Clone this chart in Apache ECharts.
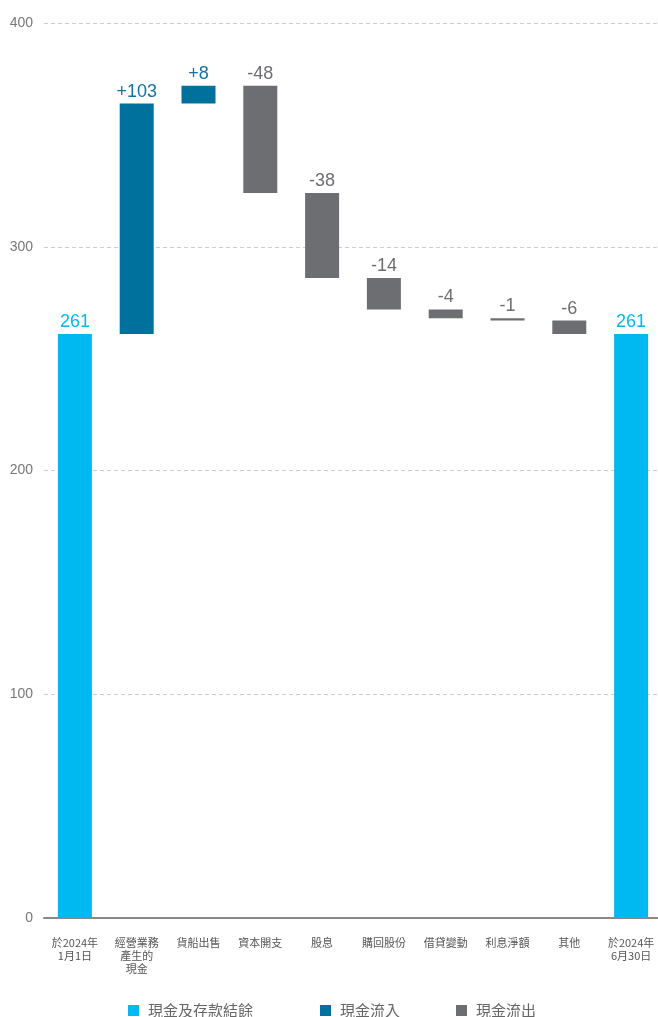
<!DOCTYPE html>
<html><head><meta charset="utf-8">
<script src="https://cdn.jsdelivr.net/npm/echarts@6/dist/echarts.min.js"></script>
<style>html,body{margin:0;padding:0;background:#fff;width:658px;height:1017px;overflow:hidden}#c{width:664px;height:1017px}</style>
</head><body><div id="c"></div>
<script>
const categories = ['於2024年\n1月1日','經營業務\n產生的\n現金','貨船出售','資本開支','股息','購回股份','借貸變動','利息淨額','其他','於2024年\n6月30日'];
const balanceValues = [261, null, null, null, null, null, null, null, null, 261];
const changeValues = [null, 103, 8, -48, -38, -14, -4, -1, -6, null];
const yTicks = [0, 100, 200, 300, 400];
const legendNames = ['現金及存款結餘','現金流入','現金流出'];

const colBal = '#00b9f1', colIn = '#00719c', colOut = '#6d6e71';
// build waterfall helpers from data
let running = 0;
const baseData = [], balData = [], inData = [], outData = [];
for (let i = 0; i < categories.length; i++) {
  if (balanceValues[i] != null) {
    running = balanceValues[i];
    baseData.push(0); balData.push(balanceValues[i]); inData.push('-'); outData.push('-');
  } else {
    const d = changeValues[i];
    if (d >= 0) { baseData.push(running); inData.push(d); outData.push('-'); running += d; }
    else { running += d; baseData.push(running); outData.push(-d); inData.push('-'); }
    balData.push('-');
  }
}
const numFont = 'Liberation Sans, Arial, sans-serif';
const cjk = '"Noto Sans CJK TC", "Noto Sans", sans-serif';
const legendLefts = [128, 320, 456];
const chart = echarts.init(document.getElementById('c'));
chart.setOption({
  animation: false,
  grid: {left: 44, width: 618, top: 23, bottom: 99, containLabel: false},
  legend: legendNames.map((n, i) => ({
    data: [n], top: 1003, left: legendLefts[i], padding: 0, itemWidth: 11, itemHeight: 11,
    icon: 'rect', selectedMode: false,
    textStyle: {fontFamily: cjk, fontSize: 15, color: '#666', padding: [0,0,0,4]}
  })),
  xAxis: {
    type: 'category', data: categories,
    axisLine: {lineStyle: {color: '#888', width: 2}},
    axisTick: {show: false},
    axisLabel: {fontFamily: cjk, fontSize: 11, color: '#555', lineHeight: 13, margin: 18, interval: 0}
  },
  yAxis: {
    type: 'value', min: 0, max: 400, interval: 100,
    axisLine: {show: false}, axisTick: {show: false},
    axisLabel: {fontFamily: numFont, fontSize: 14, color: '#777', margin: 11,
      formatter: v => yTicks.includes(v) ? String(v) : ''},
    splitLine: {lineStyle: {color: '#ccc', type: [4, 3]}}
  },
  series: [
    {type: 'bar', stack: 'w', data: baseData, barWidth: 34, itemStyle: {color: 'transparent'}, silent: true, legendHoverLink: false},
    {name: legendNames[0], type: 'bar', stack: 'w', data: balData, barWidth: 34, itemStyle: {color: colBal},
      label: {show: true, position: 'top', distance: 3, color: colBal, fontSize: 18, fontFamily: numFont, formatter: p => String(p.value)}},
    {name: legendNames[1], type: 'bar', stack: 'w', data: inData, barWidth: 34, itemStyle: {color: colIn},
      label: {show: true, position: 'top', distance: 3, color: '#12739e', fontSize: 18, fontFamily: numFont, formatter: p => '+' + p.value}},
    {name: legendNames[2], type: 'bar', stack: 'w', data: outData, barWidth: 34, itemStyle: {color: colOut},
      label: {show: true, position: 'top', distance: 3, color: colOut, fontSize: 18, fontFamily: numFont, formatter: p => '-' + p.value}}
  ]
});
</script></body></html>
